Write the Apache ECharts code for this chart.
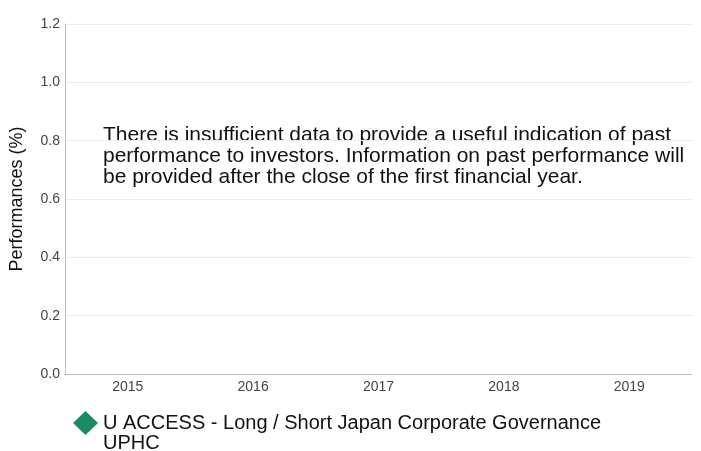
<!DOCTYPE html>
<html>
<head>
<meta charset="UTF-8">
<title>Performances</title>
<script src="https://cdn.jsdelivr.net/npm/echarts@6/dist/echarts.min.js"></script>
<style>
  html, body { margin: 0; padding: 0; background: #fff; }
  #chart { width: 701px; height: 451px; }
</style>
</head>
<body>
<div id="chart"></div>
<script>
// data
const years = ['2015', '2016', '2017', '2018', '2019'];
const fundValues = [null, null, null, null, null]; // no data yet
const seriesName = 'U ACCESS - Long / Short Japan Corporate Governance UPHC';
const noteText = 'There is insufficient data to provide a useful indication of past\nperformance to investors. Information on past performance will\nbe provided after the close of the first financial year.';

const chart = echarts.init(document.getElementById('chart'));

const option = {
  animation: false,
  grid: { left: 62, right: 9, top: 24, bottom: 77 },
  xAxis: {
    type: 'category',
    data: years,
    axisLine: { show: true, lineStyle: { color: '#bdbdbd' } },
    axisTick: { show: false },
    axisLabel: { color: '#444', fontSize: 14, fontFamily: 'Liberation Sans', margin: 6 }
  },
  yAxis: {
    type: 'value',
    min: 0,
    max: 1.2,
    interval: 0.2,
    name: 'Performances (%)',
    nameLocation: 'middle',
    nameGap: 39,
    nameTextStyle: { color: '#111', fontSize: 18, fontFamily: 'Liberation Sans' },
    axisLine: { show: true, lineStyle: { color: '#bdbdbd' } },
    axisTick: { show: false },
    axisLabel: {
      color: '#444', fontSize: 14, fontFamily: 'Liberation Sans', margin: 5,
      formatter: v => v.toFixed(1)
    },
    splitLine: { lineStyle: { color: '#ececec' } }
  },
  legend: {
    left: 73,
    top: 393,
    padding: 0,
    icon: 'diamond',
    itemWidth: 25,
    itemHeight: 24,
    itemGap: 0,
    textStyle: {
      color: '#111', fontSize: 20, fontFamily: 'Liberation Sans', lineHeight: 20
    },
    // blank first line keeps the diamond level with the first text line
    formatter: name => '\n' + name.replace(' UPHC', '\nUPHC'),
    data: [seriesName]
  },
  graphic: [{
    type: 'text',
    left: 103,
    top: 125,
    style: {
      text: noteText,
      fill: '#111',
      font: '21px "Liberation Sans"',
      lineHeight: 21
    }
  }],
  series: [{
    name: seriesName,
    type: 'bar',
    itemStyle: { color: '#1a8a62' },
    data: fundValues
  }]
};

chart.setOption(option);
</script>
</body>
</html>
